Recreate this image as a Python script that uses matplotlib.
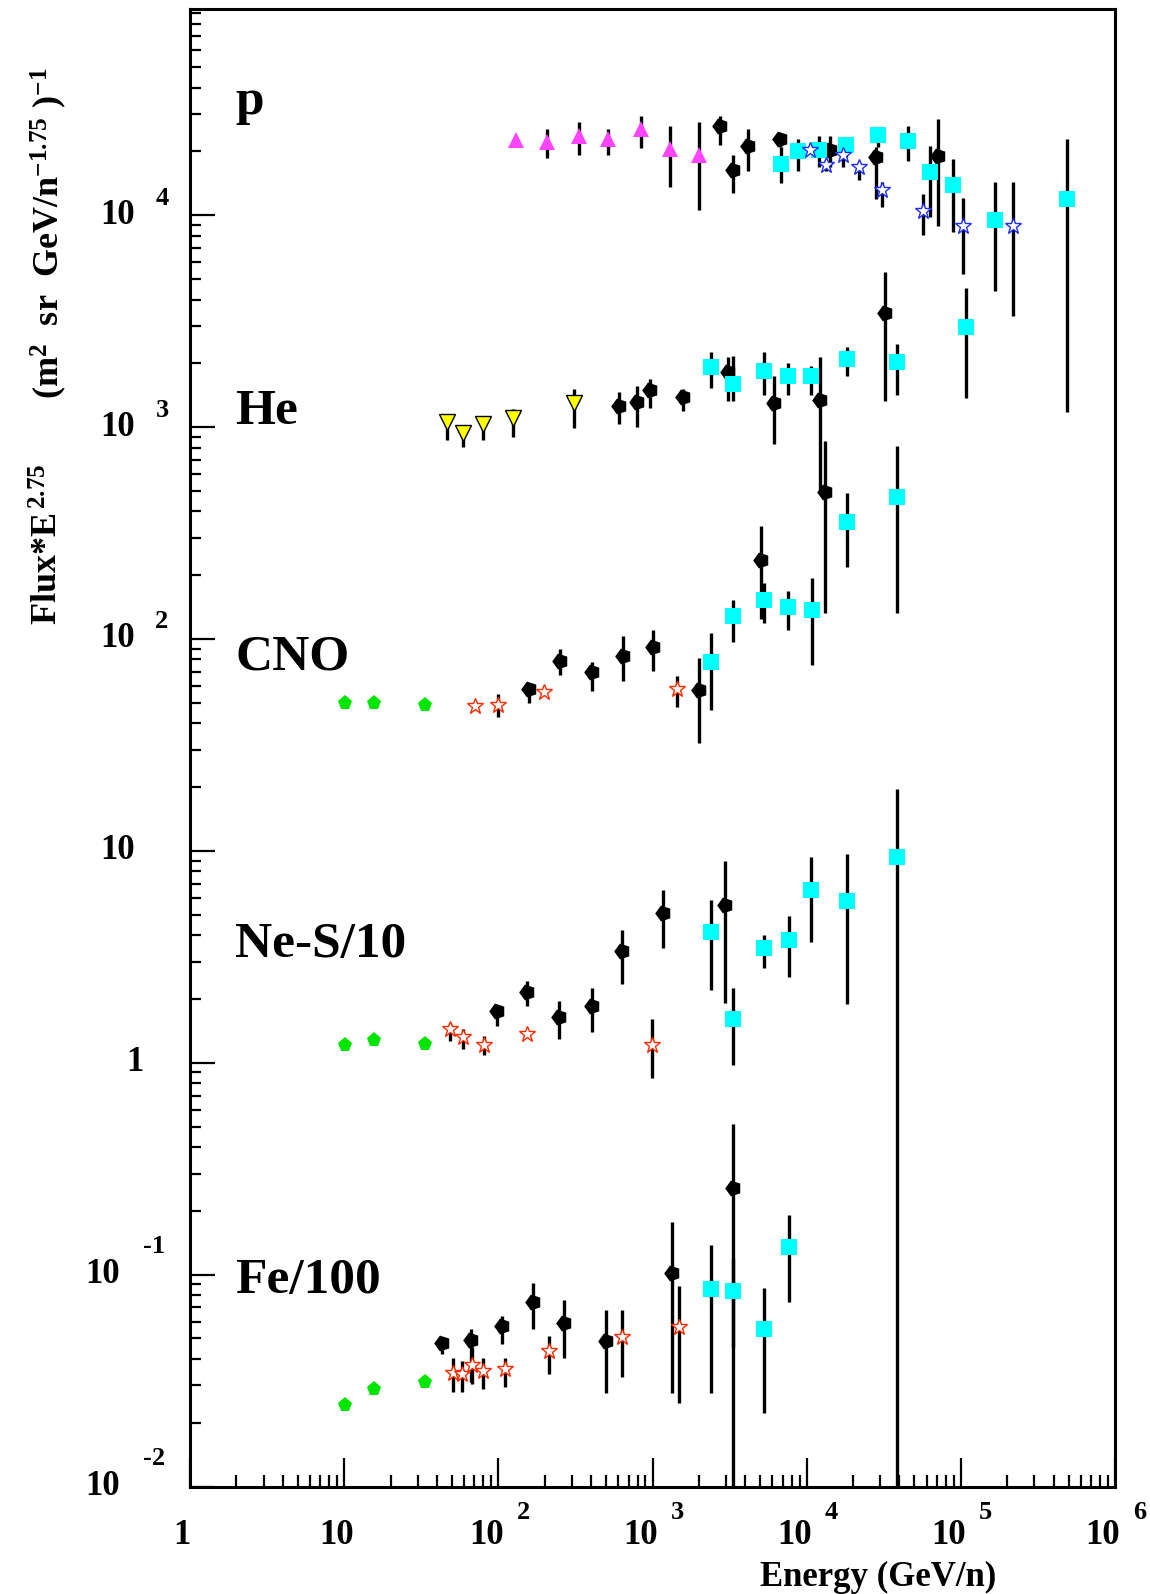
import matplotlib
import numpy as np
from matplotlib.transforms import offset_copy

matplotlib.use("Agg")
import matplotlib.pyplot as plt
from matplotlib.ticker import LogLocator, NullFormatter

plt.rcParams["font.family"] = ["Liberation Serif", "DejaVu Serif"]
plt.rcParams["font.weight"] = "bold"
plt.rcParams["mathtext.fontset"] = "custom"
plt.rcParams["mathtext.rm"] = "Liberation Serif:bold"
plt.rcParams["mathtext.it"] = "Liberation Serif:bold"
plt.rcParams["mathtext.bf"] = "Liberation Serif:bold"
plt.rcParams["mathtext.default"] = "rm"

# ---- protons ----
p_tri_e = [131, 206, 333, 516, 837, 1297, 2010]
p_tri_f = [22600, 22100, 23700, 22900, 25500, 20500, 19200]
p_tri_lo = [22600, 18700, 19300, 19300, 20800, 13650, 10600]
p_tri_hi = [22600, 25600, 27400, 25600, 29500, 26500, 27400]

p_blk_e = [2735, 3336, 4180, 6745, 14130, 27990, 71290]
p_blk_f = [26270, 16290, 21130, 22850, 20240, 18830, 18960]
p_blk_lo = [21530, 12790, 16250, 21080, 16960, 11860, 8930]
p_blk_hi = [29500, 19320, 25640, 24540, 23770, 21080, 28590]

p_cyan_e = [6776, 8810, 12060, 17870, 29100, 45100, 63200, 88300, 166800, 485000]
p_cyan_f = [17460, 20040, 20410, 21530, 23980, 22350, 15930, 13890, 9530, 11960]
p_cyan_lo = [14260, 16250, 16960, 18920, 21080, 18100, 9840, 8370, 4400, 1183]
p_cyan_hi = [21080, 22960, 23770, 23200, 26180, 26470, 21290, 18500, 14420, 22960]

p_star_e = [10490, 13330, 17250, 21810, 30610, 56980, 103500, 218400]
p_star_f = [20410, 17210, 19320, 16840, 13130, 10420, 8870, 8870]
p_star_lo = [20410, 16250, 16940, 14720, 10990, 8020, 5250, 3330]
p_star_hi = [20410, 18490, 20840, 17910, 14420, 12650, 12100, 14420]

# ---- helium ----
he_tri_e = [46.2, 58.6, 79.0, 125, 309]
he_tri_f = [1054, 939, 1038, 1104, 1297]
he_tri_lo = [867, 809, 867, 901, 994]
he_tri_hi = [1133, 1014, 1133, 1222, 1519]

he_blk_e = [608, 796, 962, 1567, 3097, 6124, 12250, 32140]
he_blk_f = [1262, 1309, 1503, 1388, 1815, 1300, 1349, 3459]
he_blk_lo = [1029, 1005, 1235, 1188, 1323, 836, 500, 1323]
he_blk_hi = [1458, 1570, 1694, 1520, 2152, 1750, 2152, 5380]

he_cyan_e = [2382, 3336, 5293, 7590, 10650, 18320, 38830, 107700]
he_cyan_f = [1916, 1600, 1848, 1751, 1751, 2085, 2022, 2970]
he_cyan_lo = [1535, 1323, 1423, 1423, 1423, 1751, 1423, 1377]
he_cyan_hi = [2249, 2160, 2249, 2016, 1935, 2400, 2477, 4550]

# ---- CNO ----
cno_grn_e = [10.2, 15.6, 33.4]
cno_grn_f = [49.6, 49.6, 49.0]

cno_star_e = [70.5, 98.9, 197.6, 1433]
cno_star_f = [48.5, 49.0, 56.1, 58.2]
cno_star_lo = [48.5, 42.8, 56.1, 47.9]
cno_star_hi = [48.5, 54.7, 56.1, 67.2]

cno_blk_e = [158.6, 251, 403, 640, 1011, 2000, 5023, 13120]
cno_blk_f = [58.2, 78.5, 69.7, 82.8, 91.8, 57.3, 237, 492]
cno_blk_lo = [50.0, 67.9, 56.7, 63.1, 70.5, 32.2, 124, 133]
cno_blk_hi = [58.2, 89.2, 77.6, 103, 110.7, 80.9, 343, 857]

cno_cyan_e = [2382, 3336, 5303, 7590, 10760, 18320, 38830]
cno_cyan_f = [77.6, 128, 153.5, 141.6, 137.6, 357, 470]
cno_cyan_lo = [46.1, 96.6, 119, 110.7, 75.7, 218, 133]
cno_cyan_hi = [107, 152, 183, 169, 195, 491, 810]

# ---- Ne-S /10 ----
nes_grn_e = [10.1, 15.7, 33.4]
nes_grn_f = [1.21, 1.28, 1.23]

nes_star_e = [48.5, 58.7, 80.7, 152.6, 986]
nes_star_f = [1.436, 1.319, 1.219, 1.369, 1.219]
nes_star_lo = [1.263, 1.167, 1.093, 1.369, 0.849]
nes_star_hi = [1.548, 1.436, 1.334, 1.369, 1.60]

nes_blk_e = [97.5, 152.6, 248, 403, 630, 1173, 2949]
nes_blk_f = [1.75, 2.15, 1.64, 1.848, 3.384, 5.10, 5.54]
nes_blk_lo = [1.487, 1.848, 1.297, 1.393, 2.364, 3.485, 1.918]
nes_blk_hi = [1.88, 2.425, 1.966, 2.264, 4.253, 6.57, 9.00]

nes_cyan_e = [2382, 3336, 5303, 7640, 10700, 18320, 38830]
nes_cyan_f = [4.148, 1.60, 3.47, 3.79, 6.57, 5.81, 9.37]
nes_cyan_lo = [2.199, 0.973, 2.805, 2.532, 3.72, 1.90, 0.001]
nes_cyan_hi = [5.89, 2.257, 4.0, 4.95, 9.33, 9.68, 19.6]

# ---- Fe /100 ----
fe_grn_e = [10.2, 15.6, 33.4]
fe_grn_f = [0.0243, 0.029, 0.031]

fe_star_e = [50.5, 57.8, 67.1, 79.1, 110, 214, 630, 1489]
fe_star_f = [0.0344, 0.0338, 0.0376, 0.035, 0.0359, 0.0435, 0.0509, 0.0567]
fe_star_lo = [0.0278, 0.0278, 0.0306, 0.0287, 0.0296, 0.0341, 0.033, 0.0249]
fe_star_hi = [0.0406, 0.039, 0.0453, 0.0406, 0.0406, 0.0516, 0.0684, 0.0888]

fe_blk_e = [42.9, 66.4, 106, 168, 267, 499, 1346, 3336]
fe_blk_f = [0.0477, 0.0494, 0.0571, 0.0744, 0.0592, 0.0485, 0.1023, 0.257]
fe_blk_lo = [0.042, 0.031, 0.0468, 0.0555, 0.0405, 0.0277, 0.0277, 0.001]
fe_blk_hi = [0.0477, 0.0551, 0.0636, 0.0908, 0.0763, 0.0684, 0.1775, 0.515]

fe_cyan_e = [2382, 3336, 5303, 7640]
fe_cyan_f = [0.0851, 0.0835, 0.0555, 0.1347]
fe_cyan_lo = [0.0277, 0.0453, 0.0223, 0.0741]
fe_cyan_hi = [0.1387, 0.1204, 0.086, 0.1907]

panel_names = ["p", "He", "CNO", "Ne-S/10", "Fe/100"]
panel_y = [30170, 1039, 71.7, 3.14, 0.0823]

x_tick_vals = [1, 10, 100, 1e3, 1e4, 1e5, 1e6]
x_tick_base = ["1", "10", "10", "10", "10", "10", "10"]
x_tick_exp = ["", "", "2", "3", "4", "5", "6"]
y_tick_vals = [1e-2, 1e-1, 1, 10, 1e2, 1e3, 1e4]
y_tick_base = ["10", "10", "1", "10", "10", "10", "10"]
y_tick_exp = ["-2", "-1", "", "", "2", "3", "4"]

W, H = 1150, 1594
fig = plt.figure(figsize=(W / 100, H / 100), dpi=100)
ax_l, ax_r, ax_t, ax_b = 190, 1115, 9, 1486.5
ax = fig.add_axes([ax_l / W, 1 - ax_b / H, (ax_r - ax_l) / W, (ax_b - ax_t) / H])
ax.set_xscale("log")
ax.set_yscale("log")
ax.set_xlim(1, 1e6)
ax.set_ylim(1e-2, 9.4e4)


def draw(e, f, lo, hi, marker, color, ms, mec=None, mew=0.0, mfc=None):
    f = np.asarray(f, dtype=float)
    err = None
    if lo is not None:
        err = [f - np.asarray(lo, dtype=float), np.asarray(hi, dtype=float) - f]
    ax.errorbar(
        e, f, yerr=err, fmt="", marker=marker, linestyle="none", ms=ms,
        mfc=mfc if mfc is not None else color,
        mec=mec if mec is not None else color, mew=mew,
        ecolor="black", elinewidth=2.4, capsize=0,
    )


pent = (5, 0, 90)
magenta, cyan, yellow = "#ff44ff", "#00ffff", "#ffff00"
green, red, blue = "#00e600", "#ff2a00", "#1f2dff"

# protons
draw(p_tri_e, p_tri_f, p_tri_lo, p_tri_hi, "^", magenta, 12)
draw(p_blk_e, p_blk_f, p_blk_lo, p_blk_hi, pent, "black", 12)
draw(p_cyan_e, p_cyan_f, p_cyan_lo, p_cyan_hi, "s", cyan, 12)
draw(p_star_e, p_star_f, p_star_lo, p_star_hi, "*", blue, 12, mec=blue, mew=1.0, mfc="white")
# helium
draw(he_tri_e, he_tri_f, he_tri_lo, he_tri_hi, "v", yellow, 12, mec="black", mew=1.0)
draw(he_blk_e, he_blk_f, he_blk_lo, he_blk_hi, pent, "black", 12)
draw(he_cyan_e, he_cyan_f, he_cyan_lo, he_cyan_hi, "s", cyan, 12)
# CNO
draw(cno_grn_e, cno_grn_f, None, None, "p", green, 11)
draw(cno_blk_e, cno_blk_f, cno_blk_lo, cno_blk_hi, pent, "black", 12)
draw(cno_cyan_e, cno_cyan_f, cno_cyan_lo, cno_cyan_hi, "s", cyan, 12)
draw(cno_star_e, cno_star_f, cno_star_lo, cno_star_hi, "*", red, 12, mec=red, mew=1.0, mfc="white")
# Ne-S
draw(nes_grn_e, nes_grn_f, None, None, "p", green, 11)
draw(nes_blk_e, nes_blk_f, nes_blk_lo, nes_blk_hi, pent, "black", 12)
draw(nes_cyan_e, nes_cyan_f, nes_cyan_lo, nes_cyan_hi, "s", cyan, 12)
draw(nes_star_e, nes_star_f, nes_star_lo, nes_star_hi, "*", red, 12, mec=red, mew=1.0, mfc="white")
# Fe
draw(fe_grn_e, fe_grn_f, None, None, "p", green, 11)
draw(fe_blk_e, fe_blk_f, fe_blk_lo, fe_blk_hi, pent, "black", 12)
draw(fe_cyan_e, fe_cyan_f, fe_cyan_lo, fe_cyan_hi, "s", cyan, 12)
draw(fe_star_e, fe_star_f, fe_star_lo, fe_star_hi, "*", red, 12, mec=red, mew=1.0, mfc="white")

for name, yv in zip(panel_names, panel_y):
    ax.text(1.96, yv, name, fontsize=37, fontweight="bold", ha="left", va="baseline")

# axes frame and ticks, ROOT style
for sp in ax.spines.values():
    sp.set_linewidth(2.2)
ax.xaxis.set_major_locator(LogLocator(base=10, numticks=20))
ax.xaxis.set_minor_locator(LogLocator(base=10, subs=np.arange(2, 10), numticks=20))
ax.yaxis.set_major_locator(LogLocator(base=10, numticks=20))
ax.yaxis.set_minor_locator(LogLocator(base=10, subs=np.arange(2, 10), numticks=20))
ax.xaxis.set_minor_formatter(NullFormatter())
ax.yaxis.set_minor_formatter(NullFormatter())
ax.tick_params(which="both", direction="in", top=False, right=False,
               labelbottom=False, labelleft=False, width=1.6)
ax.tick_params(axis="x", which="major", length=21)
ax.tick_params(axis="x", which="minor", length=9)
ax.tick_params(axis="y", which="major", length=18)
ax.tick_params(axis="y", which="minor", length=8)

base_fs, exp_fs = 25, 19
xt = ax.get_xaxis_transform()
for val, base, ex in zip(x_tick_vals, x_tick_base, x_tick_exp):
    dx = -12 if ex else -8
    ax.text(val, 0, base, fontsize=base_fs, ha="center", va="center",
            transform=offset_copy(xt, fig=fig, x=dx, y=-49, units="dots"), clip_on=False)
    if ex:
        ax.text(val, 0, ex, fontsize=exp_fs, ha="center", va="center",
                transform=offset_copy(xt, fig=fig, x=25, y=-26, units="dots"), clip_on=False)

yt = ax.get_yaxis_transform()
for val, base, ex in zip(y_tick_vals, y_tick_base, y_tick_exp):
    if ex.startswith("-"):
        bx, exx, exy = -87, -36, 28
    elif ex:
        bx, exx, exy = -72, -28, 17
    else:
        bx = -55 if base == "1" else -72
    ax.text(0, val, base, fontsize=base_fs, ha="center", va="center",
            transform=offset_copy(yt, fig=fig, x=bx, y=0, units="dots"), clip_on=False)
    if ex:
        ax.text(0, val, ex, fontsize=exp_fs, ha="center", va="center",
                transform=offset_copy(yt, fig=fig, x=exx, y=exy, units="dots"), clip_on=False)

fig.text(996 / W, 1 - 1577 / H, "Energy (GeV/n)", fontsize=25, ha="right", va="center")
fig.text(49 / W, 1 - 625 / H, r"Flux*E$^{\,2.75}$", fontsize=26, rotation=90,
         ha="center", va="bottom")
fig.text(49 / W, 1 - 399 / H, r"(m$^{2}$  sr  GeV/n$^{-1.75}$ )$^{-1}$", fontsize=26,
         rotation=90, ha="center", va="bottom")

fig.savefig("out.png", dpi=100)
